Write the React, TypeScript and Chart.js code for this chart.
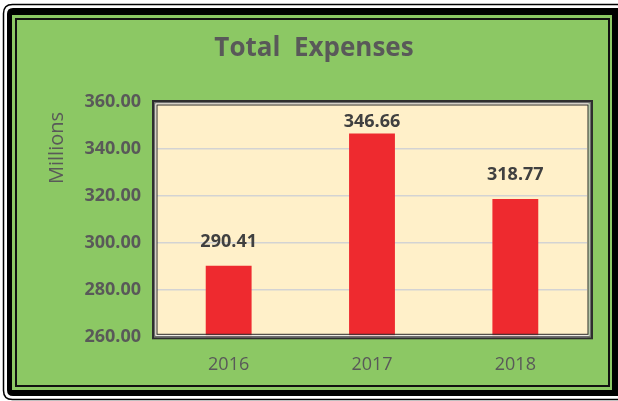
import React, { useEffect, useRef } from "react";
import { Chart, registerables } from "chart.js";

Chart.register(...registerables);

const categories = ["2016", "2017", "2018"];
const expenses = [290.41, 346.66, 318.77];
const yTicks = [260, 280, 300, 320, 340, 360];
const titleText = "Total  Expenses";
const yAxisTitle = "Millions";

const GREEN = "#8CC864";
const BEIGE = "#FFF0C9";
const RED = "#EE2A2F";
const GRAY = "#595959";
const FONT = "'Open Sans', 'Liberation Sans', sans-serif";

function roundRect(ctx: CanvasRenderingContext2D, x: number, y: number, w: number, h: number, r: number) {
  ctx.beginPath();
  ctx.moveTo(x + r, y);
  ctx.lineTo(x + w - r, y);
  ctx.quadraticCurveTo(x + w, y, x + w, y + r);
  ctx.lineTo(x + w, y + h - r);
  ctx.quadraticCurveTo(x + w, y + h, x + w - r, y + h);
  ctx.lineTo(x + r, y + h);
  ctx.quadraticCurveTo(x, y + h, x, y + h - r);
  ctx.lineTo(x, y + r);
  ctx.quadraticCurveTo(x, y, x + r, y);
  ctx.closePath();
}

const framePlugin = {
  id: "frame",
  beforeDraw(chart: any) {
    const ctx = chart.ctx as CanvasRenderingContext2D;
    const W = chart.width;
    const H = chart.height;
    ctx.save();
    ctx.fillStyle = "#ffffff";
    ctx.fillRect(0, 0, W, H);
    // outer thin rounded line
    ctx.strokeStyle = "#000";
    ctx.lineWidth = 1.5;
    roundRect(ctx, 3.5, 4.5, W + 4, H - 6, 9);
    ctx.stroke();
    // thick black frame
    ctx.fillStyle = "#000";
    roundRect(ctx, 7, 8, W - 1, H - 13, 6);
    ctx.fill();
    ctx.fillStyle = GREEN;
    ctx.fillRect(12, 15, W - 6 - 12, H - 11 - 15);
    ctx.strokeStyle = "#111";
    ctx.lineWidth = 2;
    ctx.strokeRect(16, 19, W - 9 - 16, H - 15 - 19);
    // plot background
    const a = chart.chartArea;
    ctx.fillStyle = BEIGE;
    ctx.fillRect(a.left - 3, a.top, a.right - a.left + 4, a.bottom - a.top);
    // title
    ctx.fillStyle = GRAY;
    ctx.font = `bold 26px ${FONT}`;
    ctx.textAlign = "center";
    ctx.textBaseline = "alphabetic";
    ctx.fillText(titleText, 314, 56);
    // y axis title
    ctx.font = `20px ${FONT}`;
    ctx.translate(63, 148);
    ctx.rotate(-Math.PI / 2);
    ctx.fillText(yAxisTitle, 0, 0);
    ctx.restore();
  },
  afterDatasetsDraw(chart: any) {
    const ctx = chart.ctx as CanvasRenderingContext2D;
    const a = chart.chartArea;
    const l = a.left - 5;
    const t = a.top - 2;
    const r = a.right + 6;
    const b = a.bottom + 2;
    ctx.save();
    const layers: [number, number, string][] = [
      [1, 2, "#2e2e2e"],
      [2.75, 1.5, "#6f6f6f"],
      [4, 1, "#f2f2f2"],
      [5, 1, "#2a2a2a"],
    ];
    for (const [inset, lw, col] of layers) {
      ctx.strokeStyle = col;
      ctx.lineWidth = lw;
      ctx.strokeRect(l + inset, t + inset, r - l - 2 * inset, b - t - 2 * inset);
    }
    // data labels
    const meta = chart.getDatasetMeta(0);
    ctx.fillStyle = "#404040";
    ctx.font = `bold 18px ${FONT}`;
    ctx.textAlign = "center";
    ctx.textBaseline = "alphabetic";
    meta.data.forEach((bar: any, i: number) => {
      const y = Math.max(bar.y - 19, a.top + 25);
      ctx.fillText(expenses[i].toFixed(2), bar.x, y);
    });
    ctx.restore();
  },
};

export default function App() {
  const ref = useRef<HTMLCanvasElement | null>(null);
  useEffect(() => {
    if (!ref.current) return;
    const chart = new Chart(ref.current, {
      type: "bar",
      data: {
        labels: categories,
        datasets: [
          {
            data: expenses,
            backgroundColor: RED,
            borderWidth: 0,
            categoryPercentage: 1,
            barPercentage: 0.32,
          },
        ],
      },
      options: {
        animation: false,
        responsive: false,
        devicePixelRatio: 1,
        layout: { padding: { left: 0, top: 102, right: 31, bottom: 0 } },
        plugins: { legend: { display: false }, tooltip: { enabled: false }, title: { display: false } },
        scales: {
          x: {
            grid: { display: false, drawTicks: false },
            border: { display: false },
            ticks: { color: GRAY, font: { family: FONT, size: 18 }, padding: 17 },
            afterFit: (s: any) => {
              s.height = 63.7;
            },
          },
          y: {
            min: 260,
            max: 360,
            afterBuildTicks: (s: any) => {
              s.ticks = yTicks.map((v) => ({ value: v }));
            },
            grid: { color: "#D3D3D3", lineWidth: 1.5, drawTicks: false },
            border: { display: false },
            ticks: {
              color: GRAY,
              font: { family: FONT, size: 18, weight: "bold" },
              padding: 16,
              callback: (v: any) => Number(v).toFixed(2),
            },
            afterFit: (s: any) => {
              s.width = 157;
            },
          },
        },
      },
      plugins: [framePlugin],
    });
    return () => chart.destroy();
  }, []);
  return (
    <div style={{ position: "fixed", left: 0, top: 0, width: 618, height: 401 }}>
      <canvas ref={ref} width={618} height={401} style={{ width: 618, height: 401, display: "block" }} />
    </div>
  );
}
